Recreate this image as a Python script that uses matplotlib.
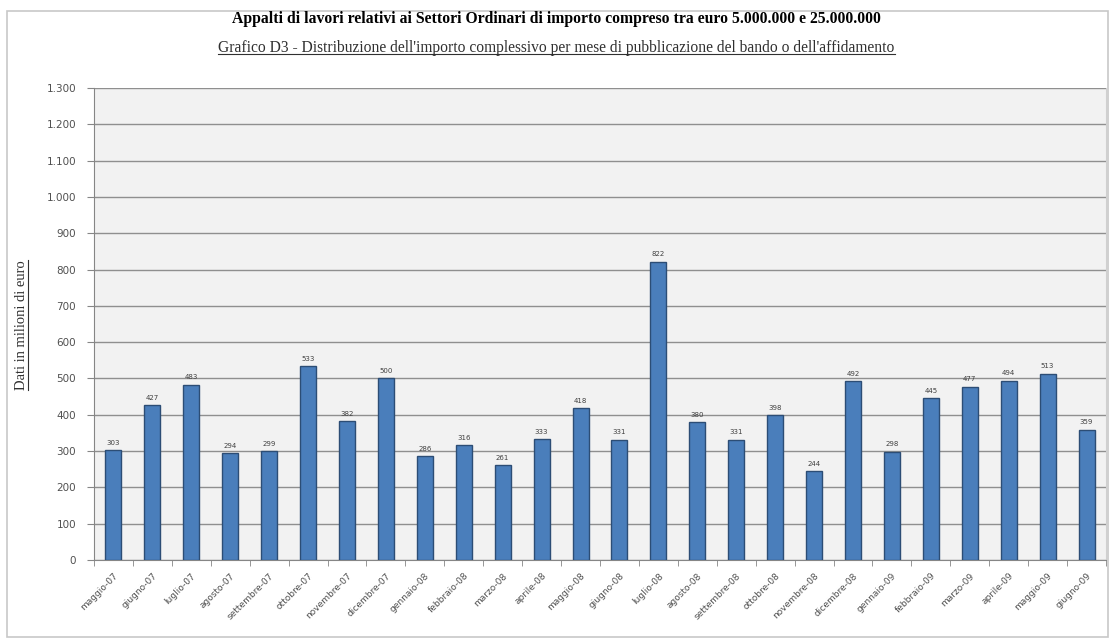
import matplotlib
matplotlib.use("Agg")
import matplotlib.pyplot as plt
from matplotlib.patches import Rectangle
from matplotlib.lines import Line2D
import numpy as np

months = ["maggio-07", "giugno-07", "luglio-07", "agosto-07", "settembre-07", "ottobre-07",
          "novembre-07", "dicembre-07", "gennaio-08", "febbraio-08", "marzo-08", "aprile-08",
          "maggio-08", "giugno-08", "luglio-08", "agosto-08", "settembre-08", "ottobre-08",
          "novembre-08", "dicembre-08", "gennaio-09", "febbraio-09", "marzo-09", "aprile-09",
          "maggio-09", "giugno-09"]
values = [303, 427, 483, 294, 299, 533, 382, 500, 286, 316, 261, 333, 418, 331, 822,
          380, 331, 398, 244, 492, 298, 445, 477, 494, 513, 359]
yticks = list(range(0, 1301, 100))
ytick_labels = ["0" if v == 0 else f"{v:,}".replace(",", ".") for v in yticks]

title = "Appalti di lavori relativi ai Settori Ordinari di importo compreso tra euro 5.000.000 e 25.000.000"
subtitle = "Grafico D3 - Distribuzione dell'importo complessivo per mese di pubblicazione del bando o dell'affidamento"
ylabel = "Dati in milioni di euro"

W, H = 1113, 644
fig = plt.figure(figsize=(W / 100, H / 100), dpi=100)
fig.patch.set_facecolor("white")

# chart area border
fig.add_artist(Rectangle((7 / W, 1 - 637 / H), (1108 - 7) / W, (637 - 11) / H,
                         transform=fig.transFigure, fill=False, edgecolor="#c8c8c8", lw=1.2))

ax = fig.add_axes([94 / W, 1 - 560 / H, (1106 - 94) / W, (560 - 88) / H])
ax.set_facecolor("#f2f2f2")
x = np.arange(len(months))
ax.bar(x, values, width=0.41, color="#4a7ebb", edgecolor="#2c4d75", linewidth=1.0, zorder=3)
for xi, v in zip(x, values):
    ax.text(xi, v + 12, str(v), ha="center", va="bottom", fontsize=5, color="#404040",
            family="DejaVu Sans")

ax.set_xlim(-0.5, len(months) - 0.5)
ax.set_ylim(0, 1300)
ax.set_yticks(yticks)
ax.set_yticklabels(ytick_labels, fontsize=7.5, color="#505050")
ax.yaxis.grid(True, color="#8f8f8f", lw=1.0, zorder=0)
ax.set_axisbelow(True)

ax.set_xticks(x)
ax.set_xticklabels(months, rotation=45, ha="right", rotation_mode="anchor",
                   fontsize=6.5, color="#505050")
ax.set_xticks(np.arange(-0.5, len(months), 1.0), minor=True)
ax.tick_params(axis="x", which="major", length=0, pad=8)
ax.tick_params(axis="x", which="minor", length=4, color="#868686")
ax.tick_params(axis="y", length=5, color="#868686", pad=8)

for s in ["top"]:
    ax.spines[s].set_visible(False)
ax.spines["right"].set_color("#d0d0d0")
for s in ["left", "bottom"]:
    ax.spines[s].set_color("#868686")

# titles
fig.text(0.5, 1 - 19 / H, title, ha="center", va="center", fontsize=11.3,
         fontweight="bold", family="Liberation Serif", color="black")
st = fig.text(0.5, 1 - 48 / H, subtitle, ha="center", va="center", fontsize=11.2,
              family="Liberation Serif", color="#303030")
yl = fig.text(22 / W, 1 - 325 / H, ylabel, ha="center", va="center", rotation=90,
              fontsize=10.5, family="Liberation Serif", color="#303030")

fig.canvas.draw()
r = fig.canvas.get_renderer()
inv = fig.transFigure.inverted()
bb = st.get_window_extent(r)
(x0, y0), (x1, y1) = inv.transform([[bb.x0, bb.y0 + 2], [bb.x1, bb.y1]])
fig.add_artist(Line2D([x0, x1], [y0, y0], transform=fig.transFigure, color="#303030", lw=0.8))
bb = yl.get_window_extent(r)
(x0, y0), (x1, y1) = inv.transform([[bb.x1 - 1, bb.y0], [bb.x1, bb.y1]])
fig.add_artist(Line2D([x0, x0], [y0, y1], transform=fig.transFigure, color="#303030", lw=0.8))

fig.savefig("out.png", dpi=100)
